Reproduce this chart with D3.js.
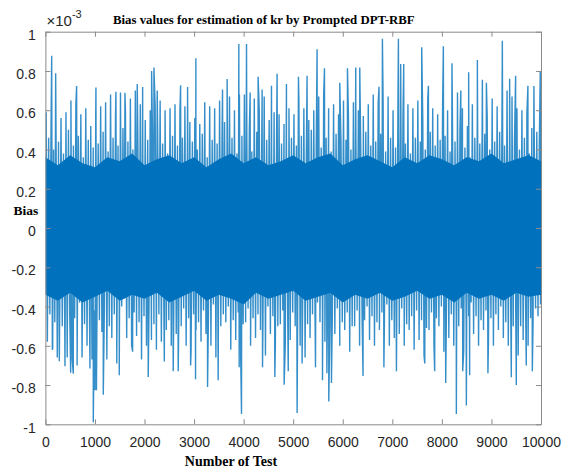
<!DOCTYPE html>
<html>
<head>
<meta charset="utf-8">
<script src="https://cdn.jsdelivr.net/npm/d3@7"></script>
<style>
  body { margin: 0; background: #fff; }
</style>
</head>
<body>
<svg></svg>
<script>
const width = 564, height = 468;

// values are in units of 1e-3
const xTicks = [0, 1000, 2000, 3000, 4000, 5000, 6000, 7000, 8000, 9000, 10000];
const yTicks = [-1, -0.8, -0.6, -0.4, -0.2, 0, 0.2, 0.4, 0.6, 0.8, 1];
const yTickLabels = ['-1', '-0.8', '-0.6', '-0.4', '-0.2', '0', '0.2', '0.4', '0.6', '0.8', '1'];

// highest / lowest bias in every block of 100 tests
const binHi = [
  0.59, 0.56, 0.47, 0.56, 0.59, 0.65, 0.63, 0.58, 0.61, 0.52,
  0.57, 0.62, 0.64, 0.68, 0.58, 0.69, 0.60, 0.66, 0.70, 0.63,
  0.55, 0.60, 0.62, 0.65, 0.60, 0.61, 0.63, 0.60, 0.62, 0.54,
  0.56, 0.53, 0.64, 0.62, 0.61, 0.65, 0.54, 0.67, 0.60, 0.68,
  0.68, 0.50, 0.66, 0.60, 0.67, 0.55, 0.59, 0.58, 0.53, 0.61,
  0.58, 0.65, 0.61, 0.55, 0.60, 0.67, 0.68, 0.61, 0.63, 0.58,
  0.65, 0.56, 0.64, 0.60, 0.57, 0.63, 0.68, 0.64, 0.63, 0.67,
  0.60, 0.69, 0.56, 0.63, 0.61, 0.65, 0.55, 0.66, 0.61, 0.58,
  0.63, 0.60, 0.50, 0.69, 0.61, 0.52, 0.63, 0.58, 0.65, 0.56,
  0.66, 0.62, 0.69, 0.70, 0.67, 0.61, 0.60, 0.58, 0.51, 0.49
];
const binLo = [
  -0.58, -0.62, -0.66, -0.50, -0.66, -0.67, -0.55, -0.66, -0.60, -0.67,
  -0.48, -0.53, -0.67, -0.56, -0.64, -0.40, -0.56, -0.60, -0.55, -0.67,
  -0.60, -0.57, -0.62, -0.58, -0.52, -0.60, -0.54, -0.50, -0.60, -0.62,
  -0.52, -0.58, -0.54, -0.60, -0.66, -0.50, -0.48, -0.62, -0.57, -0.65,
  -0.48, -0.60, -0.56, -0.52, -0.65, -0.54, -0.60, -0.49, -0.60, -0.57,
  -0.50, -0.60, -0.66, -0.56, -0.42, -0.48, -0.58, -0.50, -0.54, -0.60,
  -0.52, -0.63, -0.50, -0.60, -0.47, -0.57, -0.60, -0.52, -0.49, -0.60,
  -0.56, -0.54, -0.60, -0.52, -0.62, -0.57, -0.65, -0.52, -0.60, -0.50,
  -0.63, -0.56, -0.60, -0.50, -0.63, -0.45, -0.54, -0.60, -0.52, -0.58,
  -0.60, -0.52, -0.56, -0.60, -0.50, -0.65, -0.57, -0.60, -0.48, -0.45
];
// second highest / lowest in every block of 100 tests
const binHi2 = [
  0.46, 0.40, 0.44, 0.38, 0.50, 0.42, 0.47, 0.36, 0.45, 0.41,
  0.43, 0.49, 0.39, 0.46, 0.42, 0.51, 0.44, 0.40, 0.48, 0.37,
  0.45, 0.41, 0.50, 0.43, 0.38, 0.47, 0.42, 0.46, 0.39, 0.44,
  0.40, 0.48, 0.36, 0.45, 0.43, 0.50, 0.41, 0.46, 0.38, 0.47,
  0.44, 0.39, 0.49, 0.42, 0.45, 0.37, 0.48, 0.43, 0.40, 0.46,
  0.42, 0.47, 0.38, 0.50, 0.44, 0.41, 0.46, 0.39, 0.48, 0.43,
  0.45, 0.40, 0.47, 0.37, 0.49, 0.42, 0.44, 0.48, 0.39, 0.46,
  0.41, 0.50, 0.43, 0.38, 0.46, 0.44, 0.40, 0.49, 0.42, 0.45,
  0.47, 0.39, 0.44, 0.51, 0.41, 0.36, 0.46, 0.43, 0.48, 0.40,
  0.44, 0.49, 0.42, 0.47, 0.45, 0.40, 0.46, 0.38, 0.43, 0.41
];
const binLo2 = [
  -0.44, -0.48, -0.40, -0.50, -0.43, -0.46, -0.38, -0.49, -0.45, -0.42,
  -0.47, -0.41, -0.50, -0.44, -0.39, -0.36, -0.46, -0.43, -0.48, -0.45,
  -0.42, -0.49, -0.44, -0.40, -0.47, -0.43, -0.50, -0.41, -0.46, -0.44,
  -0.48, -0.42, -0.45, -0.39, -0.51, -0.44, -0.40, -0.47, -0.43, -0.49,
  -0.41, -0.46, -0.44, -0.48, -0.40, -0.45, -0.50, -0.42, -0.47, -0.43,
  -0.45, -0.40, -0.49, -0.44, -0.38, -0.42, -0.47, -0.44, -0.41, -0.48,
  -0.43, -0.50, -0.42, -0.46, -0.40, -0.45, -0.48, -0.43, -0.39, -0.47,
  -0.44, -0.41, -0.49, -0.45, -0.42, -0.47, -0.51, -0.43, -0.46, -0.40,
  -0.48, -0.44, -0.46, -0.41, -0.49, -0.38, -0.45, -0.47, -0.42, -0.46,
  -0.44, -0.40, -0.48, -0.45, -0.43, -0.50, -0.42, -0.46, -0.41, -0.39
];

// edge of the solid dense band, every 250 tests
const coreTest = [
  0, 250, 500, 750, 1000, 1250, 1500, 1750, 2000, 2250, 2500, 2750, 3000, 3250,
  3500, 3750, 4000, 4250, 4500, 4750, 5000, 5250, 5500, 5750, 6000, 6250, 6500,
  6750, 7000, 7250, 7500, 7750, 8000, 8250, 8500, 8750, 9000, 9250, 9500, 9750, 10000
];
const coreHi = [
  0.36, 0.32, 0.37, 0.33, 0.31, 0.36, 0.34, 0.38, 0.32, 0.35, 0.37, 0.33, 0.36, 0.31,
  0.35, 0.38, 0.33, 0.36, 0.32, 0.34, 0.37, 0.33, 0.36, 0.38, 0.32, 0.35, 0.37,
  0.34, 0.31, 0.36, 0.33, 0.37, 0.35, 0.32, 0.36, 0.34, 0.38, 0.33, 0.35, 0.37, 0.34
];
const coreLo = [
  -0.34, -0.37, -0.33, -0.38, -0.35, -0.32, -0.37, -0.34, -0.36, -0.33, -0.38, -0.35, -0.32, -0.37,
  -0.34, -0.36, -0.39, -0.33, -0.36, -0.34, -0.32, -0.37, -0.35, -0.33, -0.38, -0.34, -0.36,
  -0.33, -0.37, -0.35, -0.32, -0.36, -0.34, -0.38, -0.33, -0.36, -0.34, -0.37, -0.33, -0.35, -0.34
];

// isolated peaks: [test number, bias]
const spikeUp = [
  [127, 0.878], [207, 0.788], [630, 0.723], [1020, 0.716], [1423, 0.694], [1605, 0.689],
  [1853, 0.733], [1962, 0.718], [2143, 0.80], [2190, 0.817], [2256, 0.70], [2728, 0.727],
  [2869, 0.718], [3036, 0.865], [3574, 0.706], [3667, 0.759], [3903, 0.937], [4058, 0.937],
  [4131, 0.69], [4292, 0.771], [4373, 0.706], [4562, 0.725], [4675, 0.786], [4864, 0.733],
  [5106, 0.771], [5280, 0.776], [5482, 0.911], [5631, 0.814], [5940, 0.74], [6095, 0.814],
  [6262, 0.817], [6343, 0.817], [6732, 0.72], [6800, 0.964], [7123, 0.964], [7169, 0.836],
  [7230, 0.836], [7593, 0.921], [7728, 0.725], [8030, 0.926], [8204, 0.839], [8382, 0.70],
  [8540, 0.793], [8716, 0.856], [8817, 0.755], [8898, 0.74], [9220, 0.954], [9367, 0.76],
  [9488, 0.776], [9736, 0.725], [9857, 0.723], [9985, 0.80]
];
const spikeDown = [
  [147, -0.614], [281, -0.679], [395, -0.704], [510, -0.737], [563, -0.742], [640, -0.70],
  [899, -0.716], [966, -0.99], [1000, -0.827], [1030, -0.827], [1168, -0.85], [1440, -0.69],
  [1490, -0.75], [1760, -0.63], [2075, -0.759], [2400, -0.68], [2579, -0.73], [2680, -0.73],
  [2930, -0.70], [3030, -0.771], [3272, -0.81], [3486, -0.776], [3910, -0.71], [3957, -0.947],
  [4381, -0.71], [4629, -0.759], [4817, -0.798], [4900, -0.73], [5079, -0.942], [5180, -0.69],
  [5450, -0.71], [5591, -0.776], [5680, -0.74], [5718, -0.884], [5772, -0.79], [6409, -0.754],
  [6830, -0.71], [7083, -0.73], [7655, -0.69], [7855, -0.73], [8077, -0.79], [8292, -0.947],
  [8420, -0.73], [8494, -0.904], [8560, -0.75], [8929, -0.74], [9401, -0.76], [9502, -0.80],
  [9703, -0.70], [9825, -0.73]
];

const mLeft = 45.4, mRight = 541, mTop = 31.7, mBottom = 424.3;
const axisColor = '#8a8a8a';
const lineColor = '#0072BD';

const x = d3.scaleLinear().domain([0, 10000]).range([mLeft, mRight]);
const y = d3.scaleLinear().domain([-1, 1]).range([mBottom, mTop]);

const svg = d3.select('svg')
  .attr('width', width)
  .attr('height', height)
  .attr('viewBox', `0 0 ${width} ${height}`);

svg.append('defs').append('clipPath').attr('id', 'plot')
  .append('rect')
  .attr('x', mLeft).attr('y', mTop)
  .attr('width', mRight - mLeft).attr('height', mBottom - mTop);

const plot = svg.append('g').attr('clip-path', 'url(#plot)');

// dense band
plot.append('path')
  .datum(coreTest.map((t, i) => [t, coreLo[i], coreHi[i]]))
  .attr('fill', lineColor)
  .attr('d', d3.area().x(d => x(d[0])).y0(d => y(d[1])).y1(d => y(d[2])));

// the series itself, block extremes plus peaks in test order
const points = [];
binHi.forEach((v, i) => {
  points.push([i * 100 + 15, v]);
  points.push([i * 100 + 40, binLo[i]]);
  points.push([i * 100 + 65, binHi2[i]]);
  points.push([i * 100 + 90, binLo2[i]]);
});
spikeUp.forEach(d => points.push(d));
spikeDown.forEach(d => points.push(d));
points.sort((a, b) => a[0] - b[0]);

plot.append('path')
  .datum(points)
  .attr('fill', 'none')
  .attr('stroke', lineColor)
  .attr('stroke-width', 1.4)
  .attr('stroke-opacity', 0.8)
  .attr('d', d3.line().x(d => x(d[0])).y(d => y(d[1])));

// axes, ticks inward on all four sides
const styleAxis = g => {
  g.select('.domain').attr('stroke', axisColor);
  g.selectAll('.tick line').attr('stroke', axisColor);
  g.selectAll('.tick text')
    .attr('fill', '#262626')
    .style('font-family', '"Liberation Sans", Arial, sans-serif')
    .style('font-size', '14px');
};

svg.append('g')
  .attr('transform', `translate(0,${mBottom})`)
  .call(d3.axisBottom(x).tickValues(xTicks).tickFormat(d3.format('d'))
    .tickSizeInner(-5).tickSizeOuter(0).tickPadding(12.5))
  .call(styleAxis);

svg.append('g')
  .attr('transform', `translate(0,${mTop})`)
  .call(d3.axisTop(x).tickValues(xTicks).tickFormat('')
    .tickSizeInner(-5).tickSizeOuter(0))
  .call(styleAxis);

svg.append('g')
  .attr('transform', `translate(${mLeft},0)`)
  .call(d3.axisLeft(y).tickValues(yTicks).tickFormat((d, i) => yTickLabels[i])
    .tickSizeInner(-5).tickSizeOuter(0).tickPadding(9.7))
  .call(styleAxis)
  .selectAll('.tick text').attr('dy', '0.55em');

svg.append('g')
  .attr('transform', `translate(${mRight},0)`)
  .call(d3.axisRight(y).tickValues(yTicks).tickFormat('')
    .tickSizeInner(-5).tickSizeOuter(0))
  .call(styleAxis);

// exponent label
const expo = svg.append('text')
  .attr('x', 46.5).attr('y', 26)
  .attr('fill', '#262626')
  .style('font-family', '"Liberation Sans", Arial, sans-serif')
  .style('font-size', '15px');
expo.append('tspan').text('\u00d710');
expo.append('tspan').attr('dy', -8).style('font-size', '11px').text('-3');

// title and axis labels
const serif = '"Liberation Serif", "Times New Roman", serif';
svg.append('text')
  .attr('x', 113).attr('y', 24)
  .style('font-family', serif).style('font-weight', 'bold').style('font-size', '12.8px')
  .text('Bias values for estimation of kr by Prompted DPT-RBF');

svg.append('text')
  .attr('x', 231).attr('y', 466)
  .attr('text-anchor', 'middle')
  .style('font-family', serif).style('font-weight', 'bold').style('font-size', '14px')
  .text('Number of Test');

svg.append('text')
  .attr('x', 26).attr('y', 215)
  .attr('text-anchor', 'middle')
  .style('font-family', serif).style('font-weight', 'bold').style('font-size', '13.5px')
  .text('Bias');
</script>
</body>
</html>
